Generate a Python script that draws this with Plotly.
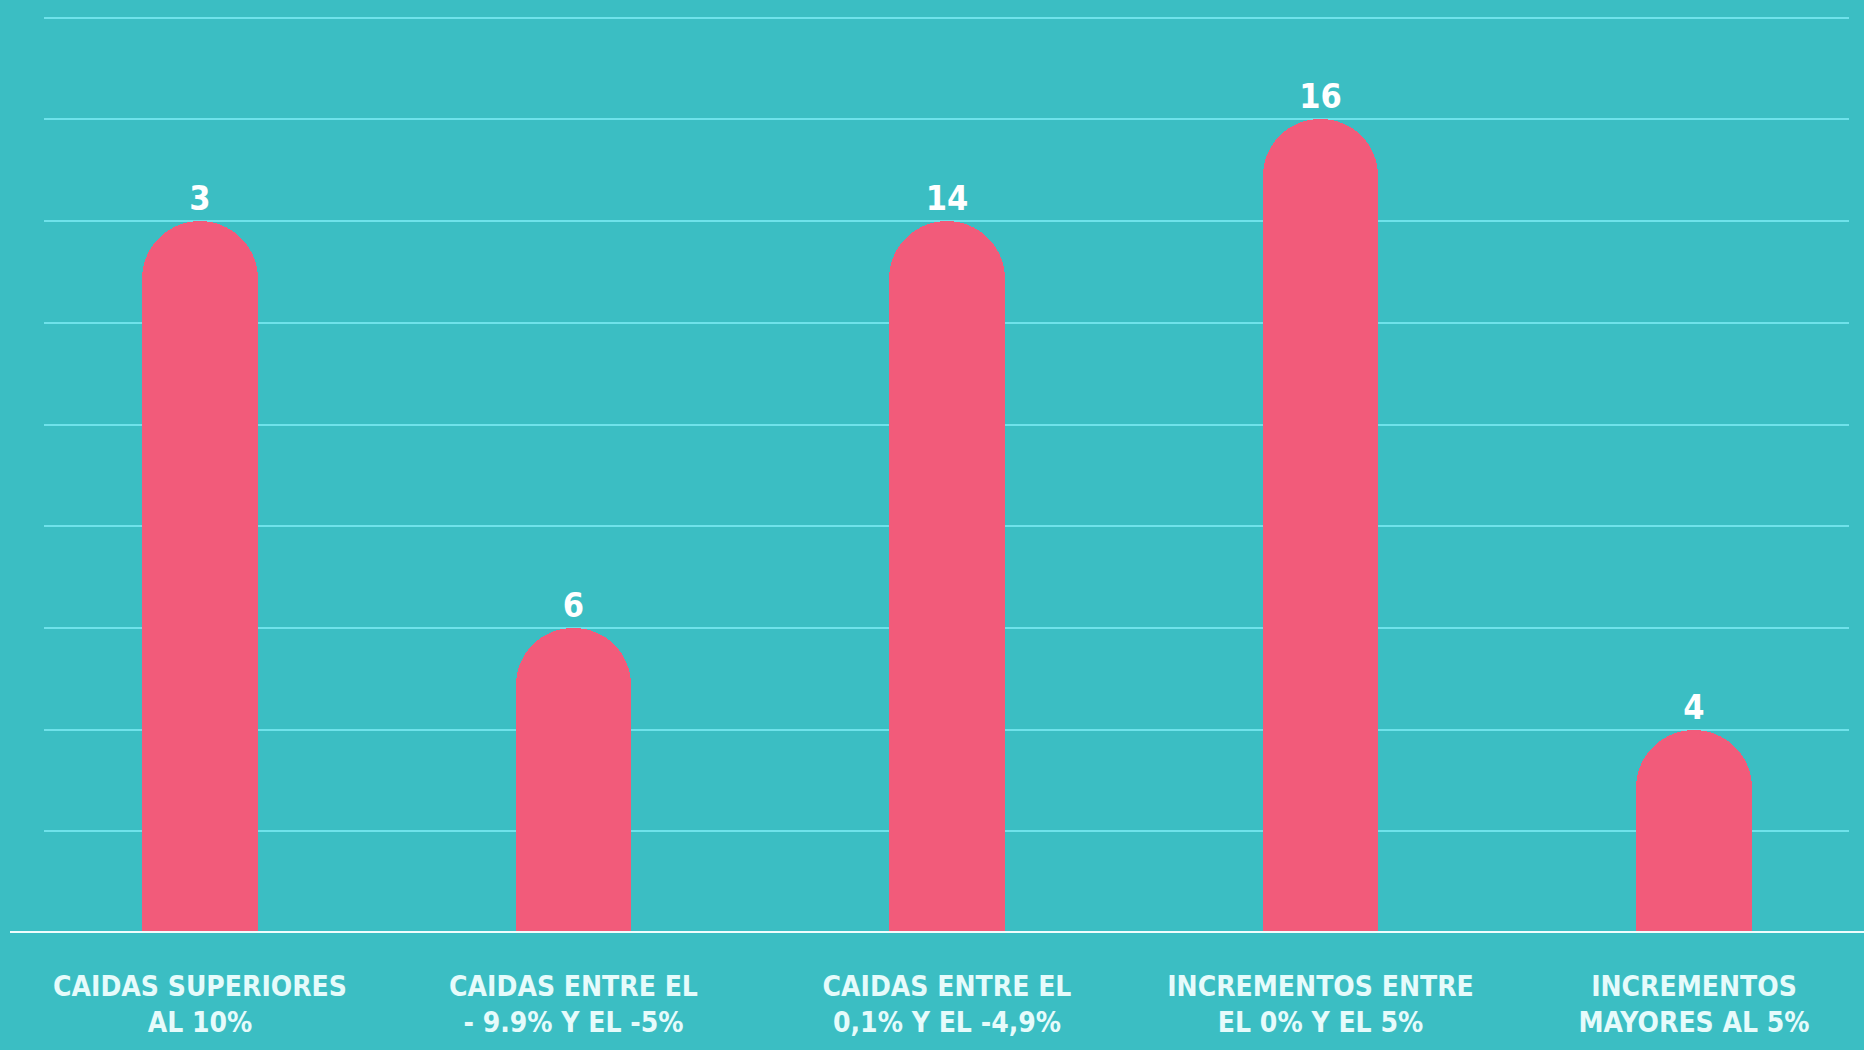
import plotly.graph_objects as go

categories = [
    "CAIDAS SUPERIORES<br>AL 10%",
    "CAIDAS ENTRE EL<br>- 9.9% Y EL -5%",
    "CAIDAS ENTRE EL<br>0,1% Y EL -4,9%",
    "INCREMENTOS ENTRE<br>EL 0% Y EL 5%",
    "INCREMENTOS<br>MAYORES AL 5%",
]
# bar heights as drawn in the picture (in gridline units)
bar_heights = [7, 3, 7, 8, 2]
# numbers printed above the bars
value_labels = ["3", "6", "14", "16", "4"]
y_ticks = [0, 1, 2, 3, 4, 5, 6, 7, 8, 9]

BG = "#3bbec3"
BAR = "#f25b7a"
GRID = "#6fe2ea"
TXT = "#e6fbfb"
FONT = "DejaVu Sans Condensed, Liberation Sans Narrow, Roboto Condensed, sans-serif"

fig = go.Figure(
    go.Bar(
        x=list(range(len(categories))),
        y=bar_heights,
        text=value_labels,
        textposition="outside",
        textfont=dict(family=FONT, size=34, color="white", weight="bold"),
        cliponaxis=False,
        width=0.308,
        marker=dict(color=BAR, line=dict(width=0), cornerradius="50%"),
        hoverinfo="skip",
    )
)

fig.update_layout(
    width=1864,
    height=1050,
    paper_bgcolor=BG,
    plot_bgcolor=BG,
    margin=dict(l=44, r=15, t=10, b=117),
    showlegend=False,
    bargap=0,
)

fig.update_xaxes(
    tickmode="array",
    tickvals=list(range(len(categories))),
    ticktext=categories,
    range=[-0.4177, 4.415],
    showgrid=False,
    zeroline=False,
    showline=False,
    ticks="",
    ticklabelstandoff=34,
    tickfont=dict(family=FONT, size=28, color=TXT, weight="bold"),
)

fig.update_yaxes(
    range=[0, 9.076],
    tickmode="array",
    tickvals=y_ticks,
    showticklabels=False,
    showgrid=True,
    gridcolor=GRID,
    gridwidth=2,
    zeroline=False,
    showline=False,
)

# baseline extending across the full width
fig.add_shape(
    type="line", xref="paper", yref="y",
    x0=(10 - 44) / 1805, x1=(1864 - 44) / 1805, y0=0, y1=0,
    line=dict(color="#f0fdfd", width=4), layer="above",
)

fig.write_html(
    "out.html",
    config={"displayModeBar": False},
    post_script="document.body.style.margin='0';document.body.style.background='%s';" % BG,
)
